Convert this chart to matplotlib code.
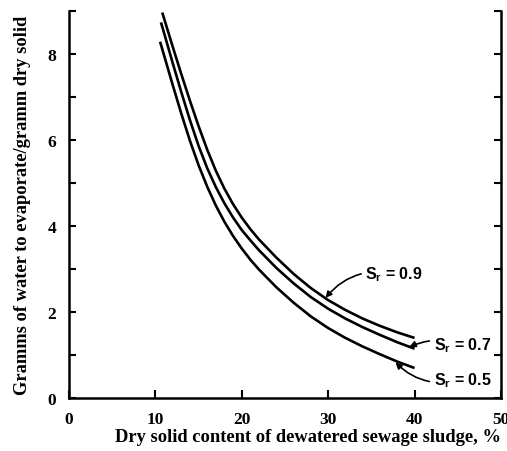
import matplotlib
matplotlib.use("Agg")
import matplotlib.pyplot as plt
from matplotlib.ticker import MultipleLocator

# Data
x_09 = [10.8, 12, 13, 14, 15, 16, 17, 18, 19, 20, 21, 22, 24, 26, 28, 30, 32, 34, 36, 38, 40]
y_09 = [8.97, 8.18, 7.54, 6.92, 6.33, 5.78, 5.29, 4.87, 4.51, 4.20, 3.93, 3.69, 3.27,
        2.89, 2.56, 2.28, 2.05, 1.85, 1.68, 1.53, 1.40]

x_07 = [10.65, 11, 12, 13, 14, 15, 16, 17, 18, 19, 20, 21, 22, 24, 26, 28, 30, 32, 34, 36, 38, 40]
y_07 = [8.74, 8.50, 7.80, 7.12, 6.47, 5.87, 5.35, 4.91, 4.53, 4.20, 3.91, 3.67, 3.44, 3.03,
        2.67, 2.35, 2.08, 1.85, 1.65, 1.47, 1.30, 1.15]

x_05 = [10.55, 11, 12, 13, 14, 15, 16, 17, 18, 19, 20, 21, 22, 24, 26, 28, 30, 32, 34, 36, 38, 40]
y_05 = [8.29, 7.98, 7.29, 6.62, 5.99, 5.42, 4.92, 4.48, 4.10, 3.77, 3.48, 3.22, 2.99, 2.58,
        2.22, 1.90, 1.63, 1.40, 1.20, 1.02, 0.85, 0.70]

labels = ["S$_\\mathregular{r}$ = 0.9", "S$_\\mathregular{r}$ = 0.7", "S$_\\mathregular{r}$ = 0.5"]
xticks = [0, 10, 20, 30, 40, 50]
yticks = [0, 2, 4, 6, 8]

fig = plt.figure(figsize=(5.07, 4.52), dpi=100)
ax = fig.add_axes([0.136, 0.117, 0.852, 0.856])

lw = 1.9
for xs, ys in [(x_09, y_09), (x_07, y_07), (x_05, y_05)]:
    ax.plot(xs, ys, color="black", lw=lw, solid_capstyle="butt", solid_joinstyle="round")

ax.set_xlim(0, 50)
ax.set_ylim(0, 9)
ax.set_xticks(xticks)
ax.set_yticks(yticks)
ax.yaxis.set_minor_locator(MultipleLocator(1))

serif = "Liberation Serif"
for lab in ax.get_xticklabels() + ax.get_yticklabels():
    lab.set_fontfamily(serif)
    lab.set_fontweight("bold")
    lab.set_fontsize(12.5)

ax.tick_params(axis="both", which="both", direction="in", width=1.5, colors="black")
ax.tick_params(axis="y", which="both", right=True, length=5)
ax.tick_params(axis="x", which="major", length=6, pad=9)
ax.tick_params(axis="y", which="major", pad=9)

ax.spines["top"].set_visible(False)
for s in ["left", "right", "bottom"]:
    ax.spines[s].set_linewidth(1.8)

ax.set_xlabel("Dry solid content of dewatered sewage sludge, %", fontfamily=serif,
              fontweight="bold", fontsize=13.3, loc="right", labelpad=1)
ax.set_ylabel("Gramms of water to evaporate/gramm dry solid", fontfamily=serif,
              fontweight="bold", fontsize=13.3, labelpad=12)

sans = "Liberation Sans"
arrow = dict(arrowstyle="-|>", color="black", lw=1.2, mutation_scale=9,
             connectionstyle="arc3,rad=0.3", shrinkA=1, shrinkB=0)
ax.annotate(labels[0], xy=(29.7, 2.33), xytext=(34.3, 2.9),
            fontfamily=sans, fontweight="bold", fontsize=11.5, va="center",
            arrowprops=arrow)
ax.annotate(labels[1], xy=(39.4, 1.19), xytext=(42.2, 1.25),
            fontfamily=sans, fontweight="bold", fontsize=11.5, va="center",
            arrowprops=dict(arrow, connectionstyle="arc3,rad=0.2"))
ax.annotate(labels[2], xy=(37.8, 0.83), xytext=(42.2, 0.44),
            fontfamily=sans, fontweight="bold", fontsize=11.5, va="center",
            arrowprops=dict(arrow, connectionstyle="arc3,rad=-0.3"))

fig.savefig("out.png", dpi=100)
